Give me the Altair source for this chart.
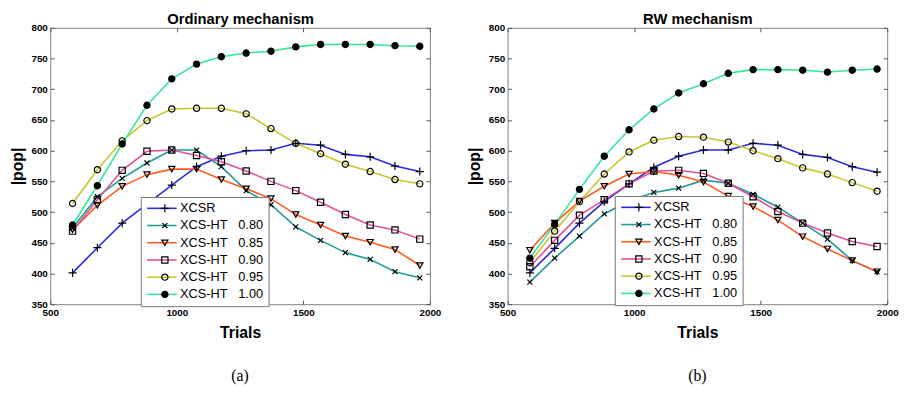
import altair as alt
import pandas as pd

NB = "\u00a0"
trials = [588, 686, 784, 882, 980, 1078, 1176, 1274, 1372, 1470, 1568, 1666, 1764, 1862, 1960]

series_names = ["XCSR",
                "XCS-HT" + NB * 3 + "0.80",
                "XCS-HT" + NB * 3 + "0.85",
                "XCS-HT" + NB * 3 + "0.90",
                "XCS-HT" + NB * 3 + "0.95",
                "XCS-HT" + NB * 3 + "1.00"]
marker_keys = ["m0", "m1", "m2", "m3", "m4", "m5"]

# Ordinary mechanism (a)
ord_xcsr = [401, 442, 482, 513, 544, 574, 591, 600, 601, 612, 609, 594, 590, 575, 566]
ord_080 = [474, 525, 555, 580, 601, 601, 574, 535, 512, 476, 454, 434, 423, 403, 393]
ord_085 = [471, 511, 542, 561, 570, 570, 553, 538, 522, 496, 479, 461, 451, 439, 413]
ord_090 = [469, 520, 568, 599, 601, 592, 582, 567, 550, 535, 516, 496, 479, 471, 456]
ord_095 = [514, 569, 616, 649, 668, 669, 669, 660, 636, 612, 595, 578, 566, 553, 546]
ord_100 = [479, 543, 611, 674, 717, 741, 753, 759, 762, 769, 773, 773, 773, 771, 770]

# RW mechanism (b)
rw_xcsr = [401, 441, 482, 517, 546, 573, 591, 601, 601, 612, 609, 594, 589, 574, 565]
rw_080 = [386, 425, 461, 497, 518, 532, 539, 552, 547, 529, 508, 482, 456, 421, 403]
rw_085 = [438, 482, 518, 542, 562, 566, 560, 549, 526, 509, 487, 460, 440, 421, 403]
rw_090 = [411, 454, 495, 520, 546, 567, 568, 563, 547, 525, 501, 482, 466, 452, 444]
rw_095 = [418, 469, 517, 562, 598, 617, 623, 622, 614, 600, 587, 572, 562, 548, 534]
rw_100 = [425, 480, 537, 591, 634, 668, 694, 709, 726, 732, 732, 731, 728, 731, 733]

line_colors = ["#2a2ae0", "#1e9a98", "#ff5a22", "#e0509e", "#c8c62a", "#34e69a"]
marker_shapes = ["M-1.3,0L1.3,0M0,-1.3L0,1.3",
                 "M-0.8,-0.8L0.8,0.8M-0.8,0.8L0.8,-0.8",
                 "triangle-down", "square", "circle", "circle"]
marker_fills = ["transparent", "transparent", "transparent", "transparent", "transparent", "black"]
marker_strokes = ["black"] * 6


def make_df(cols):
    rows = []
    for name, key, vals in zip(series_names, marker_keys, cols):
        for t, v in zip(trials, vals):
            rows.append({"trials": t, "pop": v, "series": name, "mk": key})
    return pd.DataFrame(rows)


df_a = make_df([ord_xcsr, ord_080, ord_085, ord_090, ord_095, ord_100])
df_b = make_df([rw_xcsr, rw_080, rw_085, rw_090, rw_095, rw_100])

W, H = 386, 281
FONT = "Liberation Sans"
xscale = alt.Scale(domain=[500, 2000], nice=False, zero=False)
yscale = alt.Scale(domain=[350, 800], nice=False, zero=False)
xticks = [500, 1000, 1500, 2000]
yticks = list(range(350, 801, 50))


def panel(df, title, sub, lx, ly):
    line_legend = alt.Legend(title=None, orient="none", legendX=lx, legendY=ly,
                             symbolType="M-3,0L3,0", symbolSize=100, symbolStrokeWidth=1.6,
                             symbolOffset=10, labelOffset=12, labelFontSize=13, labelFont=FONT,
                             labelColor="black", padding=5, rowPadding=3.5,
                             strokeColor="#777777", fillColor="white", labelLimit=300)
    mk_legend = alt.Legend(title=None, orient="none", legendX=lx, legendY=ly,
                           symbolSize=40, symbolStrokeColor="black", symbolStrokeWidth=1.2,
                           symbolOffset=13, labelOffset=12, labelFontSize=13, labelFont=FONT,
                           labelExpr="'" + NB + "'", padding=5, rowPadding=3.5, labelLimit=300)
    lines = alt.Chart(df).mark_line(strokeWidth=1.6).encode(
        x=alt.X("trials:Q", scale=xscale,
                axis=alt.Axis(orient="bottom", values=xticks, format="d", offset=-4, tickSize=4,
                              domain=False, grid=False, labelFlush=False, labelOverlap=False,
                              labelFontSize=10, labelFontWeight="bold", labelFont=FONT,
                              labelColor="black", labelPadding=3, tickColor="#555555",
                              title="Trials", titleFontSize=16, titleFontWeight="bold",
                              titleFont=FONT, titleColor="black", titlePadding=8)),
        y=alt.Y("pop:Q", scale=yscale,
                axis=alt.Axis(orient="left", values=yticks, format="d", offset=-4, tickSize=4,
                              domain=False, grid=False, labelFlush=False, labelOverlap=False,
                              labelFontSize=10, labelFontWeight="bold", labelFont=FONT,
                              labelColor="black", labelPadding=3, tickColor="#555555",
                              title="|pop|", titleFontSize=16, titleFontWeight="bold",
                              titleFont=FONT, titleColor="black", titlePadding=6)),
        color=alt.Color("series:N", scale=alt.Scale(domain=series_names, range=line_colors),
                        legend=line_legend, sort=series_names),
        order=alt.Order("trials:Q"),
    )
    points = alt.Chart(df).mark_point(filled=False, strokeWidth=1.2, size=40,
                                      opacity=1).encode(
        x=alt.X("trials:Q", scale=xscale,
                axis=alt.Axis(orient="top", values=xticks, offset=-4, tickSize=4, domain=False,
                              grid=False, labels=False, tickColor="#555555", title=title,
                              titleFontSize=15, titleFontWeight="bold", titleFont=FONT,
                              titleColor="black", titlePadding=1)),
        y=alt.Y("pop:Q", scale=yscale,
                axis=alt.Axis(orient="right", values=yticks, offset=-4, tickSize=4, domain=False,
                              grid=False, labels=False, tickColor="#555555", title=None)),
        shape=alt.Shape("mk:N", scale=alt.Scale(domain=marker_keys, range=marker_shapes),
                        legend=mk_legend, sort=marker_keys),
        fill=alt.Fill("mk:N", scale=alt.Scale(domain=marker_keys, range=marker_fills),
                      legend=mk_legend, sort=marker_keys),
        stroke=alt.Stroke("mk:N", scale=alt.Scale(domain=marker_keys, range=marker_strokes),
                          legend=mk_legend, sort=marker_keys),
    )
    return alt.layer(lines, points).resolve_axis(x="independent", y="independent").properties(
        width=W, height=H,
        title=alt.TitleParams(sub, orient="bottom", anchor="middle", frame="group",
                              font="Liberation Serif", fontSize=16, fontWeight="normal",
                              color="black", offset=28))


pa = panel(df_a, "Ordinary mechanism", "(a)", 92, 172)
pb = panel(df_b, "RW mechanism", "(b)", 109, 171)

chart = alt.hconcat(pa, pb, spacing=24).resolve_scale(
    x="independent", y="independent", color="independent", shape="independent",
    fill="independent", stroke="independent").properties(
    padding={"left": 0, "top": 0, "right": 0, "bottom": 0},
    background="white",
).configure_view(stroke="#808080", strokeWidth=1)

chart.save("out.html", embed_options={"renderer": "svg", "actions": False})
